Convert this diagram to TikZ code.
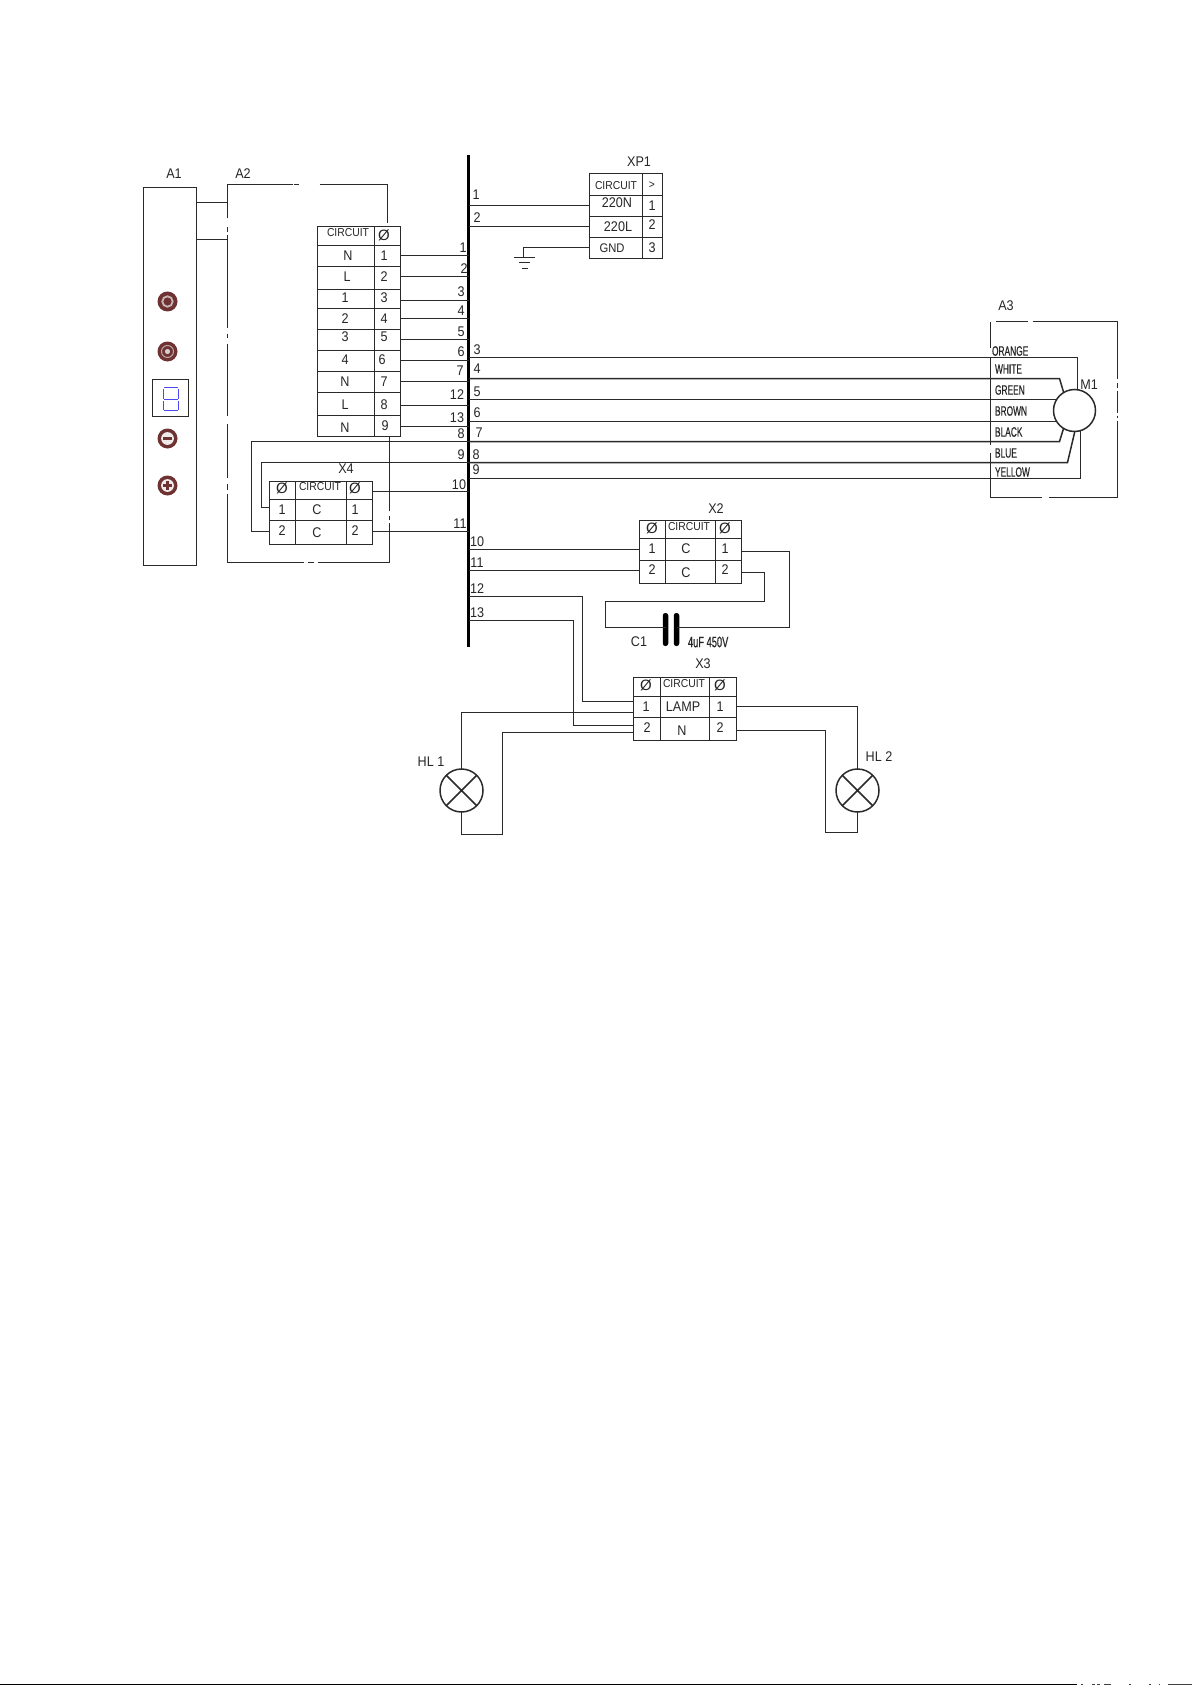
\documentclass[tikz,border=0pt]{standalone}
\usepackage{fontspec}
\setmainfont[FakeStretch=0.9]{Liberation Sans}
\newfontfamily\condf[FakeStretch=0.62,FakeBold=0.4]{Liberation Sans}
\newfontfamily\plainf{Liberation Sans}
\definecolor{brn}{HTML}{6E3232}
\definecolor{wirec}{HTML}{2A2A2A}
\definecolor{seg}{HTML}{4A4AF0}
\newcounter{lbc}
\tikzset{
  wire/.style={draw=wirec,line width=1.5pt,line cap=butt,line join=miter},
  rule/.style={draw=wirec,line width=1.5pt},
  box/.style={draw=wirec,line width=1.5pt,inner sep=0pt,outer sep=0pt,anchor=north west},
  txt/.style={inner sep=0pt,outer sep=0pt,text=black!85,font=\fontsize{14}{14}\selectfont},
  small/.style={txt,font=\fontsize{11.5}{12}\selectfont},
  mid/.style={txt,font=\fontsize{12.5}{13}\selectfont},
  ctxt/.style={txt,anchor=west,font=\condf\fontsize{13.5}{14}\selectfont},
  ctxtb/.style={txt,anchor=west,font=\condf\fontsize{15}{15}\selectfont},
  slash/.style={txt,font=\plainf\fontsize{15}{15}\selectfont},
}
\newcommand\lb[4][txt]{\stepcounter{lbc}\node[#1] (lb\thelbc) at (#2-0.5,#3-0.5) {#4};}
\newcommand\tblbox[5]{\node[box,minimum width=#4-#2,minimum height=#5-#3] (#1) at (#2,#3) {};}
\begin{document}
\begin{tikzpicture}[x=1pt,y=-1pt]
\useasboundingbox (0,0) rectangle (1192,1685);
\fill[white] (0,0) rectangle (1192,1685);
\begin{scope}[shift={(0.5,0.5)}]

% bus
\node[fill=black,inner sep=0pt,outer sep=0pt,minimum width=3pt,minimum height=491pt] (bus) at (468,400.5) {};

% A1 panel
\tblbox{pa1}{143}{187}{196}{565}
\lb{174}{174}{A1}
\tikzset{btn/.style={circle,fill=brn,inner sep=0pt,minimum size=20pt}}
\node[btn] (b1) at (167,301) {};
\draw[white!65!brn,line width=1.8pt] (b1) circle (5.2pt);
\node[btn] (b2) at (167,351) {};
\draw[white!55!brn,line width=1pt] (b2) circle (6pt);
\fill[white!75!brn] (b2) circle (2.6pt);
\node[btn] (b3) at (167,438) {};
\fill[white!90!brn] (b3) circle (6.4pt);
\fill[brn] (162.5,436.8) rectangle (171.5,439.2);
\node[btn] (b4) at (167,485) {};
\fill[white!90!brn] (b4) circle (6.4pt);
\fill[brn] (162.5,483.9) rectangle (171.5,486.1);
\fill[brn] (165.9,480.5) rectangle (168.1,489.5);
\tblbox{disp}{152}{379}{188}{416}
\draw[seg,line width=1.3pt] (163.5,387) -- (177.5,387) (163.5,399) -- (177.5,399) (163.5,410) -- (177.5,410)
  (163,388) -- (163,398) (163,400) -- (163,409) (178,388) -- (178,398) (178,400) -- (178,409);

% A2 dash-dot frame
\lb{243}{174}{A2}
\draw[wire] (227,218) -- (227,184) -- (292,184) (293,184) -- (298,184) (319,184) -- (387,184) -- (387,223);
\draw[wire] (227,227) -- (227,232) (227,235) -- (227,327) (227,333) -- (227,337) (227,343) -- (227,415)
  (227,423) -- (227,477) (227,483) -- (227,489) (227,493) -- (227,562) -- (303,562) (307,562) -- (313,562) (317,562) -- (389,562) -- (389,522)
  (389,515) -- (389,519) (389,510) -- (389,436);
\draw[wire] (pa1.east |- 0,202) -- (227,202) (pa1.east |- 0,239) -- (227,239);

% A2 table
\tblbox{ta2}{317}{226}{400}{436}
\foreach \y in {245,266,289,308,329,350,371,392,415}
  \draw[rule] (ta2.west |- 0,\y) -- (ta2.east |- 0,\y);
\draw[rule] (374,226) -- (374,436);
\lb[small]{348}{233}{CIRCUIT}\lb[slash]{384}{235}{Ø}
\lb{348}{256}{N}\lb{384}{256}{1}
\lb{347}{277}{L}\lb{384}{277}{2}
\lb{345}{298}{1}\lb{384}{298}{3}
\lb{345}{319}{2}\lb{384}{319}{4}
\lb{345}{337}{3}\lb{384}{337}{5}
\lb{345}{360}{4}\lb{382}{360}{6}
\lb{345}{382}{N}\lb{384}{382}{7}
\lb{345}{405}{L}\lb{384}{405}{8}
\lb{345}{428}{N}\lb{385}{426}{9}
\foreach \y in {255,276,300,318,339,360,381,405,426}
  \draw[wire] (ta2.east |- 0,\y) -- (bus |- 0,\y);
\lb{463}{248}{1}\lb{464}{269}{2}\lb{461}{292}{3}\lb{461}{311}{4}\lb{461}{332}{5}
\lb{461}{352}{6}\lb{460}{371}{7}\lb{457}{395}{12}\lb{457}{418}{13}\lb{461}{434}{8}\lb{461}{455}{9}
\lb{459}{485}{10}\lb{460}{524}{11}

% X4
\tblbox{tx4}{269}{481}{372}{544}
\foreach \y in {499,520} \draw[rule] (tx4.west |- 0,\y) -- (tx4.east |- 0,\y);
\foreach \x in {295,346} \draw[rule] (\x,481) -- (\x,544);
\lb{346}{469}{X4}
\lb[slash]{282}{488}{Ø}\lb[small]{320}{487}{CIRCUIT}\lb[slash]{355}{488}{Ø}
\lb{282}{510}{1}\lb{317}{510}{C}\lb{355}{510}{1}
\lb{282}{531}{2}\lb{317}{533}{C}\lb{355}{531}{2}
\draw[wire] (bus |- 0,441) -- (251,441) -- (251,531) -- (tx4.west |- 0,531);
\draw[wire] (bus |- 0,462) -- (261,462) -- (261,507) -- (tx4.west |- 0,507);
\draw[wire] (tx4.east |- 0,491) -- (bus |- 0,491);
\draw[wire] (tx4.east |- 0,531) -- (bus |- 0,531);

% XP1
\tblbox{txp}{589}{173}{662}{258}
\foreach \y in {195,216,237} \draw[rule] (txp.west |- 0,\y) -- (txp.east |- 0,\y);
\draw[rule] (642,173) -- (642,258);
\lb{639}{162}{XP1}
\lb[small]{616}{186}{CIRCUIT}\lb[small]{652}{185}{>}
\lb{617}{203}{220N}\lb{652}{206}{1}
\lb{618}{227}{220L}\lb{652}{225}{2}
\lb[mid]{612}{248}{GND}\lb{652}{248}{3}
\lb{476}{195}{1}\lb{477}{218}{2}
\draw[wire] (bus |- 0,205) -- (txp.west |- 0,205);
\draw[wire] (bus |- 0,226) -- (txp.west |- 0,226);
\coordinate (gnd) at (523,257);
\draw[wire] (txp.west |- 0,247) -- (gnd |- 0,247) -- (gnd);
\draw[wire] (513,257) -- (534,257) (518,262) -- (529,262) (521,268) -- (527,268);

% A3 + motor
\lb{1006}{306}{A3}
\node[circle,draw=wirec,line width=1.5pt,minimum size=42pt,inner sep=0pt,outer sep=0pt] (m1) at (1074,410) {};
\lb{1089}{385}{M1}
\draw[wire] (990,347) -- (990,321) (995,321) -- (1027,321) (1032,321) -- (1117,321) -- (1117,378)
  (1117,382) -- (1117,387) (1117,390) -- (1117,412) (1117,415) -- (1117,417) (1117,420) -- (1117,497) -- (1048,497) (1041,497) -- (990,497) -- (990,452)
  (990,444) -- (990,357);
\draw[wire] (bus |- 0,357) -- (1077,357) -- (1077,389.2);
\draw[wire] (bus |- 0,378) -- (1059,378) -- (1063,391.5);
\draw[wire] (bus |- 0,399) -- (1056.5,399);
\draw[wire] (bus |- 0,421) -- (1056.5,421);
\draw[wire] (bus |- 0,441) -- (1059,441) -- (1063,428);
\draw[wire] (bus |- 0,462) -- (1067,462) -- (1074.3,431);
\draw[wire] (bus |- 0,478) -- (1080,478) -- (1080,430);
\lb{477}{350}{3}\lb{477}{369}{4}\lb{477}{392}{5}\lb{477}{413}{6}\lb{479}{433}{7}\lb{476}{455}{8}\lb{476}{470}{9}
\lb[ctxt]{992}{351}{ORANGE}
\lb[ctxt]{995}{369}{WHITE}
\lb[ctxt]{995}{390}{GREEN}
\lb[ctxt]{995}{411}{BROWN}
\lb[ctxt]{995}{432}{BLACK}
\lb[ctxt]{995}{453}{BLUE}
\lb[ctxt]{995}{472}{YELLOW}

% X2
\tblbox{tx2}{639}{520}{741}{583}
\foreach \y in {538,560} \draw[rule] (tx2.west |- 0,\y) -- (tx2.east |- 0,\y);
\foreach \x in {665,715} \draw[rule] (\x,520) -- (\x,583);
\lb{716}{509}{X2}
\lb[slash]{652}{528}{Ø}\lb[small]{689}{527}{CIRCUIT}\lb[slash]{725}{528}{Ø}
\lb{652}{549}{1}\lb{686}{549}{C}\lb{725}{549}{1}
\lb{652}{570}{2}\lb{686}{573}{C}\lb{725}{570}{2}
\draw[wire] (bus |- 0,549) -- (tx2.west |- 0,549);
\draw[wire] (bus |- 0,570) -- (tx2.west |- 0,570);
\lb{477}{542}{10}\lb{477}{563}{11}\lb{477}{589}{12}\lb{477}{613}{13}
% C1
\node[fill=black,rounded corners=2.5pt,minimum width=5.5pt,minimum height=33pt,inner sep=0pt] (cp1) at (665,629) {};
\node[fill=black,rounded corners=2.5pt,minimum width=5.5pt,minimum height=33pt,inner sep=0pt] (cp2) at (676,629) {};
\draw[wire] (tx2.east |- 0,551) -- (789,551) -- (789,627) -- (cp2 |- 0,627);
\draw[wire] (tx2.east |- 0,572) -- (764,572) -- (764,601) -- (605,601) -- (605,627) -- (cp1 |- 0,627);
\lb{639}{642}{C1}
\lb[ctxtb]{688}{642}{4uF 450V}

% X3
\tblbox{tx3}{633}{677}{736}{740}
\foreach \y in {696,717} \draw[rule] (tx3.west |- 0,\y) -- (tx3.east |- 0,\y);
\foreach \x in {660,709} \draw[rule] (\x,677) -- (\x,740);
\lb{703}{664}{X3}
\lb[slash]{646}{685}{Ø}\lb[small]{684}{684}{CIRCUIT}\lb[slash]{720}{685}{Ø}
\lb{646}{707}{1}\lb{683}{707}{LAMP}\lb{720}{707}{1}
\lb{647}{728}{2}\lb{682}{731}{N}\lb{720}{728}{2}
\draw[wire] (bus |- 0,596) -- (582,596) -- (582,701) -- (tx3.west |- 0,701);
\draw[wire] (bus |- 0,620) -- (573,620) -- (573,725) -- (tx3.west |- 0,725);

% lamps
\node[circle,draw=wirec,line width=1.5pt,minimum size=43pt,inner sep=0pt,outer sep=0pt] (hl1) at (461,790) {};
\draw[wire] (hl1.45) -- (hl1.225) (hl1.135) -- (hl1.315);
\node[circle,draw=wirec,line width=1.5pt,minimum size=43pt,inner sep=0pt,outer sep=0pt] (hl2) at (857,790) {};
\draw[wire] (hl2.45) -- (hl2.225) (hl2.135) -- (hl2.315);
\lb{431}{762}{HL 1}\lb{879}{757}{HL 2}
\draw[wire] (tx3.west |- 0,712) -- (hl1 |- 0,712) -- (hl1.north);
\draw[wire] (hl1.south) -- (hl1 |- 0,834) -- (502,834) -- (502,732) -- (tx3.west |- 0,732);
\draw[wire] (tx3.east |- 0,706) -- (hl2 |- 0,706) -- (hl2.north);
\draw[wire] (hl2.south) -- (hl2 |- 0,832) -- (825,832) -- (825,730) -- (tx3.east |- 0,730);
\end{scope}

% footer edge
\fill[black] (0,1684) rectangle (1077,1685);
\foreach \a/\b in {1081/1083,1092/1095,1097/1100,1104/1111,1129/1131,1149/1151,1159/1160,1168/1192}
  \fill[black!75] (\a,1684) rectangle (\b,1685);
\end{tikzpicture}
\end{document}
